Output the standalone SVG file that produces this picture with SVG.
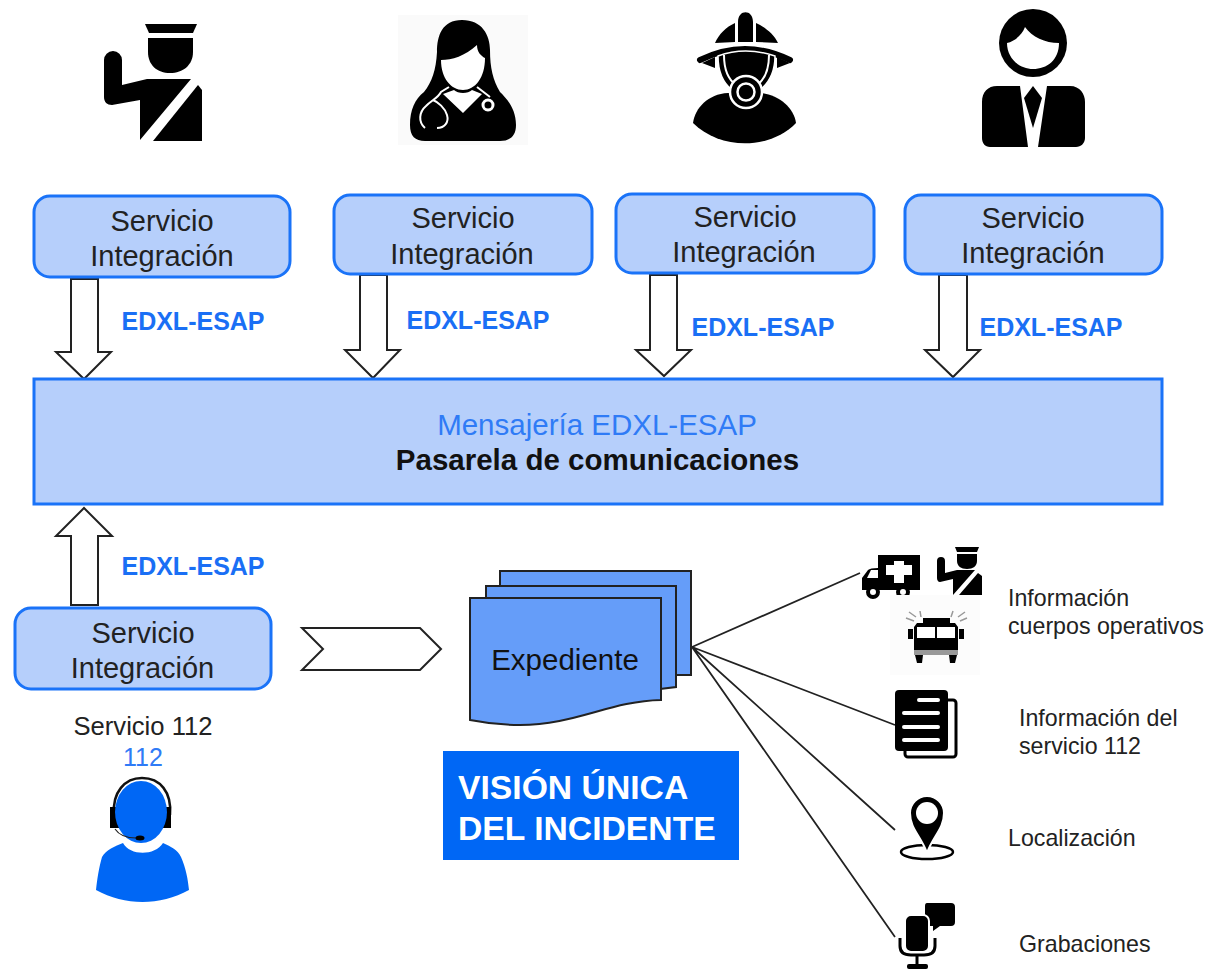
<svg xmlns="http://www.w3.org/2000/svg" width="1206" height="969" viewBox="0 0 1206 969">
<style>
text{font-family:"Liberation Sans",Arial,sans-serif;text-anchor:middle}
.box{fill:#b6cffb;stroke:#1a73f8;stroke-width:3}
.svc{font-size:29px;fill:#222}
.tag{font-size:25px;font-weight:bold;fill:#1a6ff5}
.arrow{fill:#fff;stroke:#222;stroke-width:2}
.doc{fill:#659df9;stroke:#222;stroke-width:2}
.info{font-size:23.2px;fill:#222;text-anchor:start}
.k{fill:#000}
.w{fill:#fff}
.wl{fill:none;stroke:#fff;stroke-width:2}
.line{stroke:#222;stroke-width:1.8;fill:none}
</style>
<rect width="1206" height="969" fill="#fff"/>
<g id="connectors">
<path class="line" d="M692 647L860 573M692 647L895 725M692 647L895 830M692 647L895 937"/>
<path class="arrow" d="M71 279H98V352H111L84 379L56 352H71Z"/>
<path class="arrow" d="M360 275H387V350H400L373 378L345 350H360Z"/>
<path class="arrow" d="M650 275H677V350H691L664 376L636 350H650Z"/>
<path class="arrow" d="M939 275H967V350H980L953 377L925 350H939Z"/>
<path class="arrow" d="M71 605H98V536H112L84 508L56 536H71Z"/>
<path class="arrow" d="M302 628H420L441 649L420 670H302L323 649Z"/>
</g>
<g id="svc-policia"><rect class="box" x="34" y="196" width="256" height="81" rx="16"/><text class="svc" x="162" y="231">Servicio</text><text class="svc" x="162" y="266">Integración</text></g>
<g id="svc-sanidad"><rect class="box" x="334" y="195" width="258" height="79" rx="16"/><text class="svc" x="463" y="228">Servicio</text><text class="svc" x="462" y="264">Integración</text></g>
<g id="svc-bomberos"><rect class="box" x="616" y="194" width="258" height="79" rx="16"/><text class="svc" x="745" y="227">Servicio</text><text class="svc" x="744" y="262">Integración</text></g>
<g id="svc-otros"><rect class="box" x="905" y="195" width="257" height="79" rx="16"/><text class="svc" x="1033" y="228">Servicio</text><text class="svc" x="1033" y="263">Integración</text></g>
<g id="labels"><text class="tag" x="193" y="330">EDXL-ESAP</text><text class="tag" x="478" y="329">EDXL-ESAP</text><text class="tag" x="763" y="336">EDXL-ESAP</text><text class="tag" x="1051" y="336">EDXL-ESAP</text><text class="tag" x="193" y="575">EDXL-ESAP</text></g>
<g id="pasarela"><rect class="box" x="34" y="379" width="1128" height="125"/><text x="597" y="435" font-size="29.5" fill="#2f7bf6">Mensajería EDXL-ESAP</text><text x="597.500" y="470" font-size="29.5" font-weight="bold" fill="#111">Pasarela de comunicaciones</text></g>
<g id="svc-112"><rect class="box" x="15" y="608" width="256" height="81" rx="16"/><text class="svc" x="143" y="643">Servicio</text><text class="svc" x="142.500" y="678">Integración</text></g>
<g id="expediente">
<path class="doc" d="M500 571H691V675H500Z"/>
<path class="doc" d="M486 586H676V687L660 689H486Z"/>
<path class="doc" d="M470 598H661V700C610 701 575 725 520 725C500 725 485 723 470 720Z"/>
<text x="565" y="670" font-size="29.500" fill="#111">Expediente</text>
</g>
<g id="vision"><rect x="443" y="751" width="296" height="109" fill="#0067f5"/><text x="458" y="799" font-size="33.700" font-weight="bold" fill="#fff" style="text-anchor:start">VISIÓN ÚNICA</text><text x="458" y="840" font-size="33.700" font-weight="bold" fill="#fff" style="text-anchor:start">DEL INCIDENTE</text></g>
<g id="operador">
<text x="143" y="735" font-size="25.600" fill="#222">Servicio 112</text><text x="143" y="766" font-size="25" fill="#2f7bf6">112</text>
<path d="M114 815C112 792 125 778 142 778C160 778 172 792 170 815" fill="none" stroke="#111" stroke-width="2.500"/>
<rect x="110" y="807" width="12" height="21" class="k"/><rect x="163" y="807" width="8" height="21" class="k"/>
<ellipse cx="141" cy="812" rx="26" ry="31" fill="#0067f5"/>
<path d="M115 829Q121 838 136 838" fill="none" stroke="#222" stroke-width="1.200"/><ellipse cx="140" cy="838" rx="4.500" ry="2.500" class="k"/>
<path d="M102 857C106 850 115 846 123 843C130 856 155 856 163 843C170 846 178 850 181 857C186 868 188 880 189 890C160 906 125 906 96 890C97 880 99 867 102 857Z" fill="#0067f5"/>
</g>
<g id="icon-policia">
<path class="k" d="M145 24H197L193 33H149Z"/>
<path class="k" d="M148 38H193V52C193 65 183 73 170 73C157 73 148 65 148 52Z"/>
<path class="k" d="M104 60A9 9 0 0 1 122 60V85L147 79H191L140 140V100L112 105C107 105 104 102 104 97Z"/>
<path class="k" d="M198 85L202 90V141H153Z"/>
</g>
<g id="icon-medica">
<rect x="398" y="15" width="130" height="130" fill="#fafafa"/>
<path class="k" d="M462 20C442 20 437 36 437 52C436 70 432 82 424 92C415 99 410 110 410 125C410 136 415 141 425 141H500C510 141 516 136 516 125C516 108 506 98 500 92C493 80 490 68 490 50C490 35 482 20 462 20Z"/>
<path class="w" d="M441 60C452 60 465 56 477 45C477 52 481 56 485 58C485 78 475 90 463 90C451 90 441 78 441 60Z"/>
<path class="w" d="M443 94L463 113L482 94L472 90C468 94 458 94 454 90Z"/>
<path class="wl" d="M425 128C418 122 419 112 426 106C432 100 438 98 441 92L449 87M437 128C445 128 449 122 447 115C445 108 438 102 433 100M477 87L490 97"/>
<circle cx="488" cy="105" r="5" fill="none" stroke="#fff" stroke-width="3"/>
</g>
<g id="icon-bombero">
<path class="k" d="M715 43C719 34 726 27 735 23V42ZM738 42V22C738 9 753 9 753 22V42ZM756 42V23C765 27 774 34 778 43Z"/>
<path d="M700 60Q745 38 790 60" fill="none" stroke="#000" stroke-width="6" stroke-linecap="round"/>
<path class="k" d="M702 63L715 57V68ZM790 63L777 57V68Z"/>
<path class="k" d="M693 123C695 108 708 94 728 93H762C780 96 794 108 796 123C770 150 720 150 693 123Z"/>
<path d="M718 56C718 70 722 82 732 90H760C770 82 775 70 775 56Q745 46 718 56Z" class="k" stroke="#fff" stroke-width="1.500"/>
<path d="M724 55C724 70 729 80 736 85M769 55C769 70 764 80 757 85" fill="none" stroke="#fff" stroke-width="2"/>
<circle cx="746" cy="92" r="16" fill="#000" stroke="#fff" stroke-width="2.500"/>
<circle cx="746" cy="92" r="8.500" fill="none" stroke="#fff" stroke-width="2.500"/>
</g>
<g id="icon-civil">
<circle cx="1033" cy="43" r="34" class="k"/>
<path class="w" d="M1007 43C1015 41 1022 35 1025 27C1032 37 1045 43 1059 43C1059 60 1047 69 1033 69C1019 69 1007 58 1007 43Z"/>
<path class="k" d="M997 86H1020L1028 147H990C985 147 982 143 982 138V102C982 92 988 86 997 86ZM1047 86H1070C1080 86 1085 94 1085 102V138C1085 143 1081 147 1076 147H1038Z"/>
<path class="k" d="M1033 86L1042 98L1033 128L1024 98Z"/>
</g>
<g id="icon-ambulancia">
<path class="k" d="M878 555H920V590H862V578L868 570Q870 568 878 568Z"/>
<path class="w" d="M867 578L871 570H878V578Z"/>
<path class="w" d="M894 561H904V565H912V575H904V583H894V575H886V565H894Z"/>
<circle cx="873" cy="592" r="5" fill="#fff" stroke="#000" stroke-width="4"/><circle cx="903" cy="592" r="5" fill="#fff" stroke="#000" stroke-width="4"/>
</g>
<g id="icon-policia-2">
<path class="k" d="M955 547H979L977 552H957Z"/>
<path class="k" d="M957 554H977V561C977 566 973 569 967 569C961 569 957 566 957 561Z"/>
<path class="k" d="M937 561A4 4 0 0 1 945 561V573L957 570H975L953 595V579L940 582C938 582 937 580 937 578Z"/>
<path class="k" d="M978 573L982 576V595H959Z"/>
</g>
<g id="icon-camion">
<rect x="890" y="595" width="90" height="80" fill="#fcfcfc"/>
<path d="M906 618L914 621M909 612L916 617M920 611L921 617M953 611L951 617M965 612L958 617M967 618L960 621" stroke="#999" stroke-width="1.500"/>
<path class="k" d="M923 618H950V623H955L958 627V650H914V627L917 623H923Z"/>
<rect x="908" y="629" width="5" height="10" class="k"/><rect x="959" y="629" width="5" height="10" class="k"/>
<rect x="917" y="627" width="18" height="11" class="w"/><rect x="937" y="627" width="18" height="11" class="w"/>
<rect x="914" y="650" width="44" height="5" fill="#999"/>
<path class="k" d="M915 655H923L922 663H917ZM949 655H957L955 663H950Z"/>
</g>
<g id="icon-documento">
<rect x="905" y="700" width="51" height="57" rx="3" fill="#fff" stroke="#000" stroke-width="3"/>
<rect x="895" y="690" width="53" height="61" rx="4" class="k"/>
<path d="M919 700H938M904 713H938M904 727H938M904 740H938" stroke="#fff" stroke-width="4" stroke-linecap="round"/>
</g>
<g id="icon-localizacion">
<ellipse cx="927" cy="852" rx="26" ry="7" fill="none" stroke="#000" stroke-width="2.500"/>
<path d="M927 853C921 836 910 829 910 813A17 17 0 0 1 944 813C944 829 933 836 927 853Z" class="k" stroke="#fff" stroke-width="2"/>
<circle cx="927" cy="813" r="11" class="w"/>
</g>
<g id="icon-grabacion">
<path class="k" d="M927 903H951Q955 903 955 907V922Q955 926 951 926H940L933 931V926H925V906Q925 903 927 903Z"/>
<rect x="905" y="915" width="24" height="37" rx="6" class="k" stroke="#fff" stroke-width="2"/>
<path d="M900 938V946C900 953 905 955 911 955H924C930 955 935 953 935 946V938" fill="none" stroke="#000" stroke-width="3"/>
<path d="M917 955V965" stroke="#000" stroke-width="3"/><rect x="907" y="964" width="21" height="5" rx="2" class="k"/>
</g>
<g id="textos-info">
<text class="info" x="1008" y="606">Información</text><text class="info" x="1008" y="634">cuerpos operativos</text>
<text class="info" x="1019" y="726">Información del</text><text class="info" x="1019" y="754">servicio 112</text>
<text class="info" x="1008" y="846">Localización</text>
<text class="info" x="1019" y="952">Grabaciones</text>
</g>
</svg>
